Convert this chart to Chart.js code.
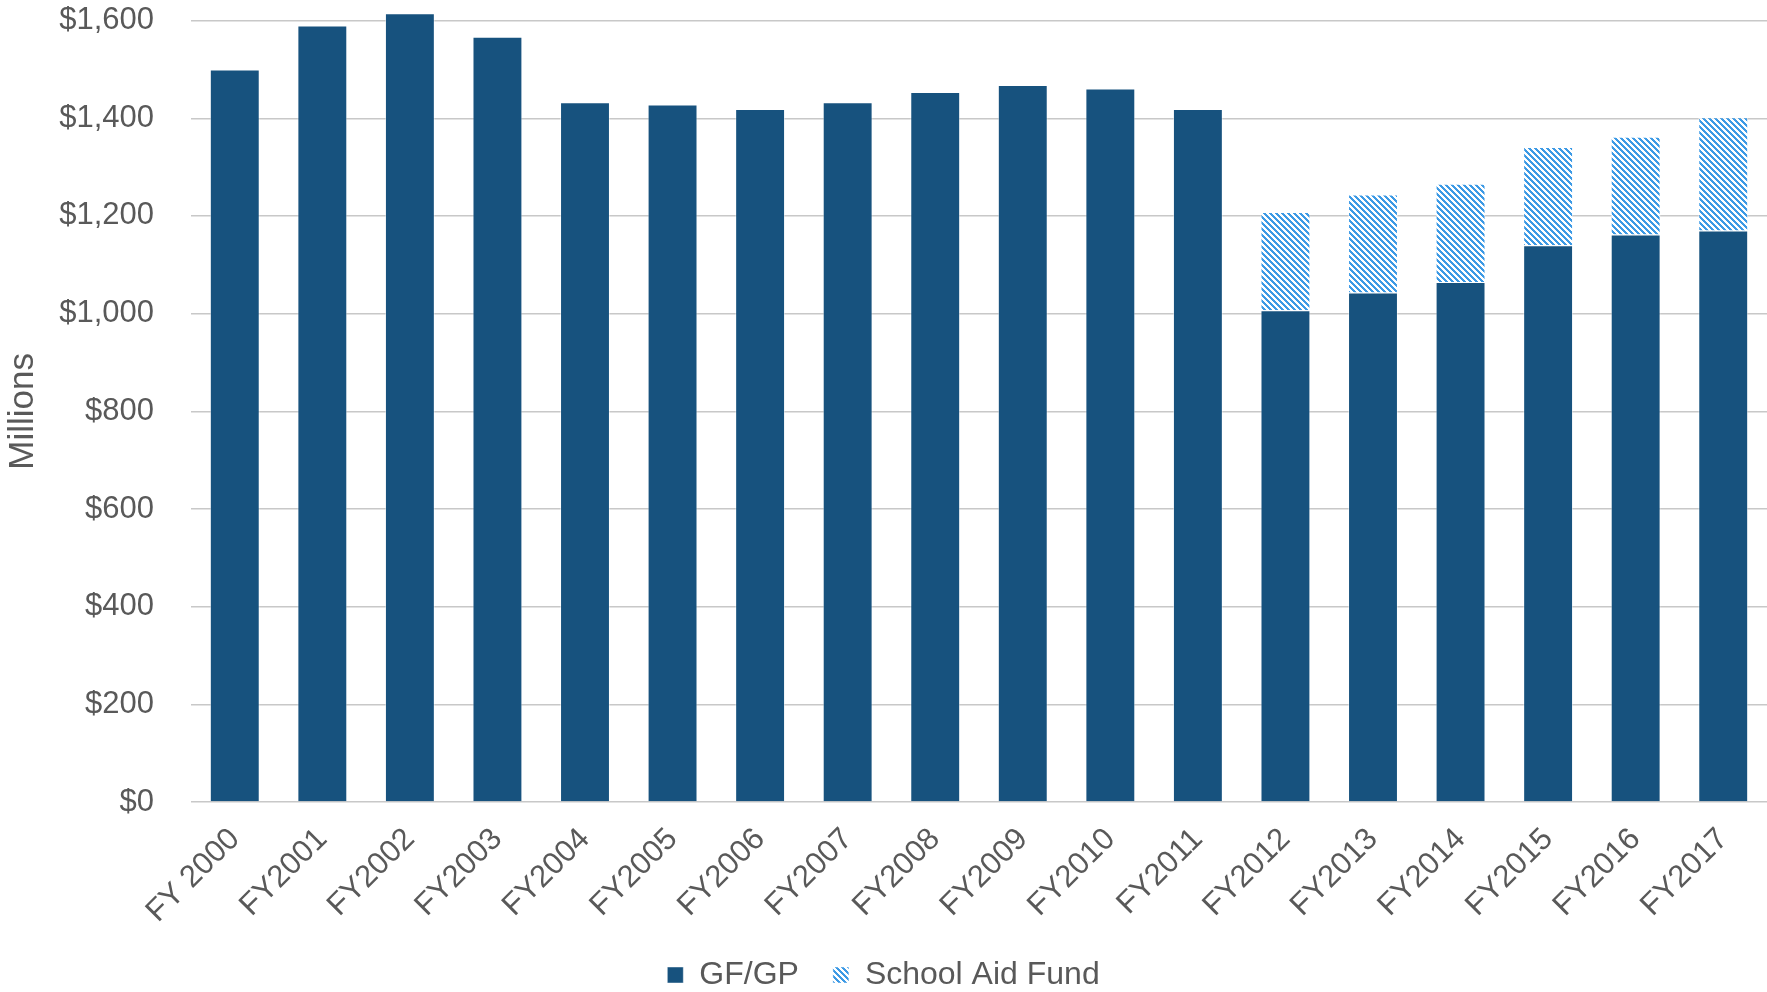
<!DOCTYPE html>
<html>
<head>
<meta charset="utf-8">
<script src="https://cdn.jsdelivr.net/npm/chart.js@4"></script>
<style>
  html, body { margin: 0; padding: 0; background: #fff; }
  #wrap { width: 1767px; height: 992px; }
</style>
</head>
<body>
<div id="wrap"><canvas id="myChart" width="1767" height="992"></canvas></div>
<script>
'use strict';

// data
const categories = ['FY 2000', 'FY2001', 'FY2002', 'FY2003', 'FY2004', 'FY2005', 'FY2006', 'FY2007', 'FY2008',
  'FY2009', 'FY2010', 'FY2011', 'FY2012', 'FY2013', 'FY2014', 'FY2015', 'FY2016', 'FY2017'];
const gfgp = [1500, 1590, 1615, 1567, 1433, 1428, 1419, 1433, 1454, 1468, 1461, 1419, 1007, 1043, 1065, 1140, 1162, 1170];
const schoolAid = [null, null, null, null, null, null, null, null, null, null, null, null, 201, 201, 201, 201, 200, 232];
const yTicks = [0, 200, 400, 600, 800, 1000, 1200, 1400, 1600];

const textColor = '#595959';
const font = 'Liberation Sans, Arial, sans-serif';

// hatch pattern for School Aid Fund (pixel stripes, like Excel's wide downward diagonal)
function makeHatch() {
  const size = 6;
  const c = document.createElement('canvas');
  c.width = size;
  c.height = size;
  const g = c.getContext('2d');
  g.fillStyle = '#ffffff';
  g.fillRect(0, 0, size, size);
  g.fillStyle = '#3d9ae5';
  for (let y = 0; y < size; y++) {
    for (let x = 0; x < size; x++) {
      if (((x - y) % size + size) % size < 3) g.fillRect(x, y, 1, 1);
    }
  }
  return g.createPattern(c, 'repeat');
}

const ctx = document.getElementById('myChart').getContext('2d');
const hatch = makeHatch();

new Chart(ctx, {
  type: 'bar',
  data: {
    labels: categories,
    datasets: [
      {
        label: 'GF/GP',
        data: gfgp,
        backgroundColor: '#17527e',
        borderColor: 'rgba(255,255,255,0.45)',
        borderWidth: 1,
        barPercentage: 0.57,
        categoryPercentage: 1,
        clip: false
      },
      {
        label: 'School Aid Fund',
        data: schoolAid,
        backgroundColor: hatch,
        borderColor: 'rgba(255,255,255,0.45)',
        borderWidth: 1,
        barPercentage: 0.57,
        categoryPercentage: 1,
        clip: false
      }
    ]
  },
  options: {
    responsive: false,
    animation: false,
    layout: { padding: { top: 0, right: 0, bottom: -9, left: 0 } },
    plugins: {
      legend: {
        position: 'bottom',
        labels: {
          color: textColor,
          font: { family: font, size: 32 },
          boxWidth: 16,
          boxHeight: 16,
          padding: 34,
          useBorderRadius: false
        }
      },
      tooltip: { enabled: false }
    },
    scales: {
      x: {
        stacked: true,
        grid: { display: false },
        border: { display: false },
        ticks: {
          color: textColor,
          font: { family: font, size: 31 },
          minRotation: 45,
          maxRotation: 45,
          autoSkip: false,
          padding: 11
        },
        afterFit: function(scale) {
          scale.height = 123;
        }
      },
      y: {
        stacked: true,
        min: 0,
        max: 1600,
        afterBuildTicks: function(scale) {
          scale.ticks = yTicks.map(v => ({ value: v }));
        },
        afterFit: function(scale) {
          scale.width = 191;
        },
        grid: {
          color: '#c8c8c8',
          lineWidth: 1.5,
          drawTicks: true,
          tickLength: 35,
          tickColor: 'rgba(0,0,0,0)'
        },
        border: { display: false },
        ticks: {
          color: textColor,
          font: { family: font, size: 31 },
          padding: 2,
          callback: function(value) {
            return '$' + value.toLocaleString('en-US');
          }
        },
        title: {
          display: true,
          text: 'Millions',
          color: textColor,
          font: { family: font, size: 35 },
          padding: { top: 2, bottom: 0 }
        }
      }
    }
  }
});
</script>
</body>
</html>
